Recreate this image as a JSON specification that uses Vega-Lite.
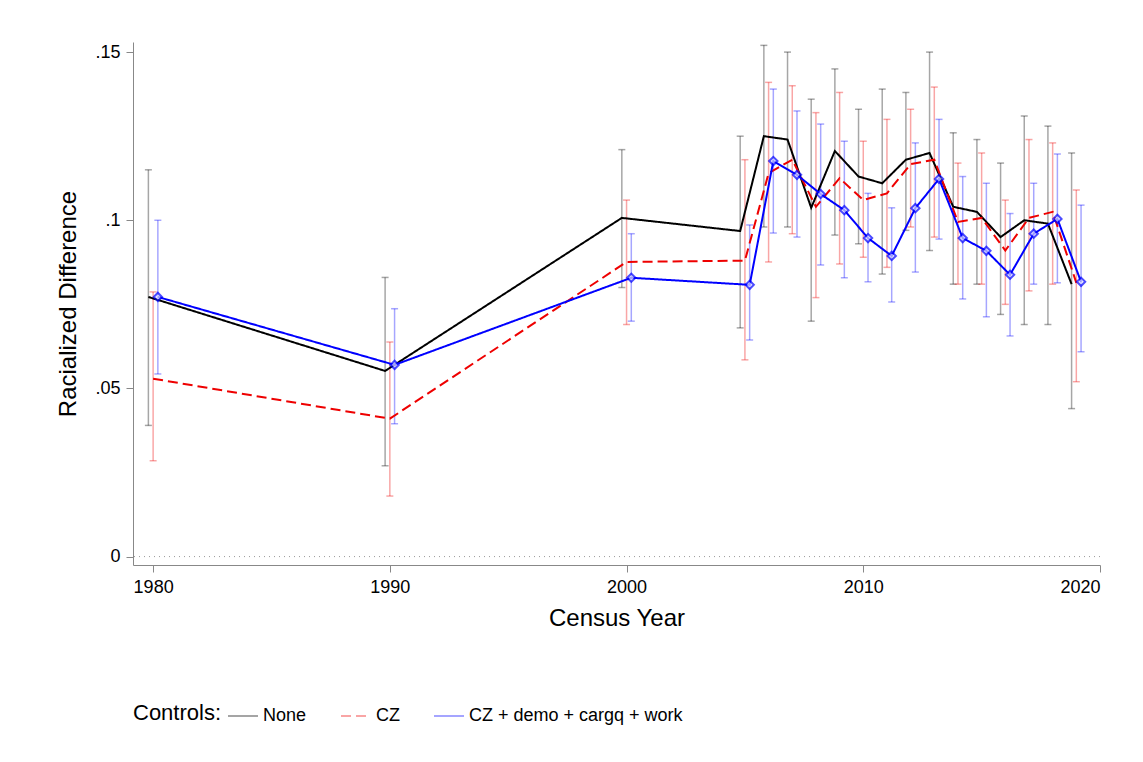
{
  "$schema": "https://vega.github.io/schema/vega-lite/v6.json",
  "width": 967,
  "height": 523,
  "autosize": "none",
  "padding": {"left": 133, "top": 42, "right": 43, "bottom": 197},
  "background": "white",
  "config": {
    "view": {"stroke": null},
    "font": "Liberation Sans",
    "axis": {"grid": false, "domainColor": "#888", "tickColor": "#888", "labelColor": "black", "titleColor": "black", "labelFontSize": 18, "titleFontSize": 24, "titleFontWeight": "normal", "tickSize": 7, "labelPadding": 6}
  },
  "data": {
    "values": [
      {"s": "None", "x": 1979.8, "v": 0.0772, "lo": 0.039, "hi": 0.115},
      {"s": "None", "x": 1989.8, "v": 0.0552, "lo": 0.027, "hi": 0.083},
      {"s": "None", "x": 1999.8, "v": 0.1007, "lo": 0.080, "hi": 0.121},
      {"s": "None", "x": 2004.8, "v": 0.0968, "lo": 0.068, "hi": 0.125},
      {"s": "None", "x": 2005.8, "v": 0.125, "lo": 0.098, "hi": 0.152},
      {"s": "None", "x": 2006.8, "v": 0.124, "lo": 0.098, "hi": 0.150},
      {"s": "None", "x": 2007.8, "v": 0.1037, "lo": 0.070, "hi": 0.136},
      {"s": "None", "x": 2008.8, "v": 0.1206, "lo": 0.0956, "hi": 0.145},
      {"s": "None", "x": 2009.8, "v": 0.113, "lo": 0.093, "hi": 0.133},
      {"s": "None", "x": 2010.8, "v": 0.111, "lo": 0.084, "hi": 0.139},
      {"s": "None", "x": 2011.8, "v": 0.118, "lo": 0.097, "hi": 0.138},
      {"s": "None", "x": 2012.8, "v": 0.120, "lo": 0.091, "hi": 0.150},
      {"s": "None", "x": 2013.8, "v": 0.104, "lo": 0.081, "hi": 0.126},
      {"s": "None", "x": 2014.8, "v": 0.1025, "lo": 0.081, "hi": 0.124},
      {"s": "None", "x": 2015.8, "v": 0.095, "lo": 0.072, "hi": 0.117},
      {"s": "None", "x": 2016.8, "v": 0.100, "lo": 0.069, "hi": 0.131},
      {"s": "None", "x": 2017.8, "v": 0.099, "lo": 0.069, "hi": 0.128},
      {"s": "None", "x": 2018.8, "v": 0.081, "lo": 0.044, "hi": 0.120},
      {"s": "CZ", "x": 1980, "v": 0.0529, "lo": 0.0285, "hi": 0.0787},
      {"s": "CZ", "x": 1990, "v": 0.041, "lo": 0.018, "hi": 0.0638},
      {"s": "CZ", "x": 2000, "v": 0.0876, "lo": 0.069, "hi": 0.106},
      {"s": "CZ", "x": 2005, "v": 0.088, "lo": 0.0585, "hi": 0.118},
      {"s": "CZ", "x": 2006, "v": 0.114, "lo": 0.0876, "hi": 0.141},
      {"s": "CZ", "x": 2007, "v": 0.118, "lo": 0.096, "hi": 0.140},
      {"s": "CZ", "x": 2008, "v": 0.104, "lo": 0.077, "hi": 0.132},
      {"s": "CZ", "x": 2009, "v": 0.1125, "lo": 0.087, "hi": 0.138},
      {"s": "CZ", "x": 2010, "v": 0.106, "lo": 0.089, "hi": 0.1235},
      {"s": "CZ", "x": 2011, "v": 0.108, "lo": 0.086, "hi": 0.130},
      {"s": "CZ", "x": 2012, "v": 0.1167, "lo": 0.098, "hi": 0.133},
      {"s": "CZ", "x": 2013, "v": 0.118, "lo": 0.095, "hi": 0.1396},
      {"s": "CZ", "x": 2014, "v": 0.0995, "lo": 0.081, "hi": 0.117},
      {"s": "CZ", "x": 2015, "v": 0.1007, "lo": 0.081, "hi": 0.120},
      {"s": "CZ", "x": 2016, "v": 0.091, "lo": 0.075, "hi": 0.106},
      {"s": "CZ", "x": 2017, "v": 0.1007, "lo": 0.079, "hi": 0.124},
      {"s": "CZ", "x": 2018, "v": 0.1025, "lo": 0.081, "hi": 0.123},
      {"s": "CZ", "x": 2019, "v": 0.0814, "lo": 0.052, "hi": 0.109},
      {"s": "CZ + demo + cargq + work", "x": 1980.2, "v": 0.0772, "lo": 0.0543, "hi": 0.100},
      {"s": "CZ + demo + cargq + work", "x": 1990.2, "v": 0.057, "lo": 0.0395, "hi": 0.0737},
      {"s": "CZ + demo + cargq + work", "x": 2000.2, "v": 0.0829, "lo": 0.070, "hi": 0.096},
      {"s": "CZ + demo + cargq + work", "x": 2005.2, "v": 0.0808, "lo": 0.0644, "hi": 0.0986},
      {"s": "CZ + demo + cargq + work", "x": 2006.2, "v": 0.1176, "lo": 0.0962, "hi": 0.139},
      {"s": "CZ + demo + cargq + work", "x": 2007.2, "v": 0.1135, "lo": 0.095, "hi": 0.1325},
      {"s": "CZ + demo + cargq + work", "x": 2008.2, "v": 0.1078, "lo": 0.0867, "hi": 0.1286},
      {"s": "CZ + demo + cargq + work", "x": 2009.2, "v": 0.103, "lo": 0.0829, "hi": 0.1235},
      {"s": "CZ + demo + cargq + work", "x": 2010.2, "v": 0.0947, "lo": 0.0817, "hi": 0.108},
      {"s": "CZ + demo + cargq + work", "x": 2011.2, "v": 0.0894, "lo": 0.0757, "hi": 0.1037},
      {"s": "CZ + demo + cargq + work", "x": 2012.2, "v": 0.1036, "lo": 0.0846, "hi": 0.123},
      {"s": "CZ + demo + cargq + work", "x": 2013.2, "v": 0.1123, "lo": 0.0944, "hi": 0.130},
      {"s": "CZ + demo + cargq + work", "x": 2014.2, "v": 0.0947, "lo": 0.0766, "hi": 0.113},
      {"s": "CZ + demo + cargq + work", "x": 2015.2, "v": 0.0909, "lo": 0.0713, "hi": 0.111},
      {"s": "CZ + demo + cargq + work", "x": 2016.2, "v": 0.0838, "lo": 0.0656, "hi": 0.102},
      {"s": "CZ + demo + cargq + work", "x": 2017.2, "v": 0.096, "lo": 0.081, "hi": 0.111},
      {"s": "CZ + demo + cargq + work", "x": 2018.2, "v": 0.1004, "lo": 0.0814, "hi": 0.1197},
      {"s": "CZ + demo + cargq + work", "x": 2019.2, "v": 0.0817, "lo": 0.0609, "hi": 0.1045}
    ]
  },
  "encoding": {
    "x": {"field": "x", "type": "quantitative", "title": "Census Year", "scale": {"domain": [1979.15, 2020], "nice": false, "zero": false}, "axis": {"values": [1980, 1990, 2000, 2010, 2020], "format": "d", "titlePadding": 10}},
    "color": {"field": "s", "type": "nominal", "scale": {"domain": ["None", "CZ", "CZ + demo + cargq + work"], "range": ["black", "#ee0000", "#0000ff"]}, "legend": {"orient": "bottom", "direction": "horizontal", "title": "Controls:", "titleOrient": "left", "titleFontSize": 22, "titleFontWeight": "normal", "labelFontSize": 18, "symbolType": "stroke", "symbolSize": 900, "symbolStrokeWidth": 2, "columnPadding": 30, "offset": 70, "labelLimit": 400}}
  },
  "layer": [
    {
      "data": {"values": [{"z": 0}]},
      "mark": {"type": "rule", "color": "#999", "strokeDash": [1, 4]},
      "encoding": {"y": {"field": "z", "type": "quantitative"}, "x": null, "color": null}
    },
    {
      "mark": {"type": "rule", "opacity": 0.35, "strokeWidth": 1.5},
      "encoding": {
        "y": {"field": "lo", "type": "quantitative"},
        "y2": {"field": "hi"}
      }
    },
    {
      "mark": {"type": "tick", "opacity": 0.35, "orient": "horizontal", "size": 7, "thickness": 1.5},
      "encoding": {"y": {"field": "lo", "type": "quantitative"}}
    },
    {
      "mark": {"type": "tick", "opacity": 0.35, "orient": "horizontal", "size": 7, "thickness": 1.5},
      "encoding": {"y": {"field": "hi", "type": "quantitative"}}
    },
    {
      "mark": {"type": "line", "strokeWidth": 2},
      "encoding": {
        "y": {"field": "v", "type": "quantitative", "title": "Racialized Difference", "scale": {"domain": [-0.0025, 0.153], "nice": false}, "axis": {"values": [0, 0.05, 0.1, 0.15], "labelExpr": "datum.value == 0 ? '0' : replace(format(datum.value, '.2~f'), '0.', '.')", "labelAngle": 0, "titlePadding": 14}},
        "strokeDash": {"field": "s", "type": "nominal", "scale": {"domain": ["None", "CZ", "CZ + demo + cargq + work"], "range": [[1, 0], [10, 5], [1, 0]]}, "legend": null}
      }
    },
    {
      "transform": [{"filter": "datum.s == 'CZ + demo + cargq + work'"}],
      "mark": {"type": "point", "shape": "diamond", "filled": true, "fill": "#dcdcff", "stroke": "#0000ff", "strokeWidth": 2, "size": 70},
      "encoding": {"y": {"field": "v", "type": "quantitative"}, "color": null}
    }
  ]
}
